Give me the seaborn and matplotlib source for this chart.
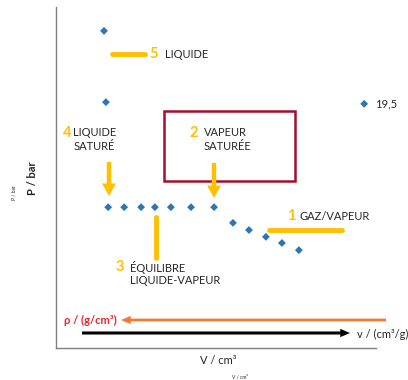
import matplotlib
matplotlib.use("Agg")
import matplotlib.pyplot as plt
import seaborn as sns
import pandas as pd

# volume / pressure readings (arbitrary units)
volume = [15.0, 15.6, 96.3, 16.3, 21.3, 26.6, 30.9, 35.9, 42.2, 49.4,
          55.3, 60.3, 65.6, 70.6, 75.9]
pressure = [93.0, 72.1, 71.6, 41.3, 41.3, 41.3, 41.3, 41.3, 41.3, 41.3,
            36.7, 34.6, 32.6, 30.8, 28.7]
point_label = "19,5"

W, H = 408, 380
BLUE = "#2E75B6"
YELLOW = "#FFC000"
DARKRED = "#A50F2D"
ORANGE = "#ED7D31"
GREY = "#262626"

sns.set_style("white")
plt.rcParams["font.family"] = ["Lato", "DejaVu Sans"]

fig = plt.figure(figsize=(W / 100, H / 100), dpi=100)
ax = fig.add_axes([56 / W, 1 - 348 / H, 320 / W, 341 / H])

df = pd.DataFrame({"V": volume, "P": pressure})
sns.scatterplot(data=df, x="V", y="P", marker="D", color=BLUE, s=16,
                edgecolor="none", ax=ax)
ax.set_xlim(0, 100)
ax.set_ylim(0, 100)
ax.set_xticks([])
ax.set_yticks([])
ax.set_xlabel("")
ax.set_ylabel("")
for side in ["top", "right"]:
    ax.spines[side].set_visible(False)
for side in ["left", "bottom"]:
    ax.spines[side].set_color("#7f7f7f")
    ax.spines[side].set_linewidth(1.0)

ax.annotate(point_label, (volume[2], pressure[2]), xytext=(8, 0),
            textcoords="offset points", va="center", fontsize=8, color=GREY)


def px(x, y):
    return x / W, 1 - y / H


def text(x, y, s, **kw):
    kw.setdefault("fontsize", 8)
    kw.setdefault("color", GREY)
    kw.setdefault("va", "center")
    fig.text(*px(x, y), s, **kw)


def line(x0, y0, x1, y1, **kw):
    a, b = px(x0, y0)
    c, d = px(x1, y1)
    fig.add_artist(plt.Line2D([a, c], [b, d], transform=fig.transFigure, **kw))


def arrow(x0, y0, x1, y1, color, tw, hw, hl):
    fig.add_artist(matplotlib.patches.FancyArrowPatch(
        px(x0, y0), px(x1, y1), transform=fig.transFigure,
        arrowstyle=f"simple,head_width={hw},head_length={hl},tail_width={tw}",
        mutation_scale=1, color=color, lw=0, shrinkA=0, shrinkB=0))


# 5 LIQUIDE
line(112, 54, 145, 54, color=YELLOW, lw=3.5)
text(149, 54, "5", color=YELLOW, fontsize=10.5, fontweight="bold")
text(165, 54, "LIQUIDE")

# 4 LIQUIDE SATURE
text(63, 133, "4", color=YELLOW, fontsize=10.5, fontweight="bold")
text(73, 133, "LIQUIDE")
text(115, 147, "SATURÉ", ha="right")
arrow(109, 162, 109, 196, YELLOW, 3.2, 10, 9)

# 2 VAPEUR SATUREE
fig.add_artist(matplotlib.patches.Rectangle(
    px(164, 181), 131 / W, 70 / H, transform=fig.transFigure,
    fill=False, edgecolor=DARKRED, lw=1.8))
text(190, 133, "2", color=YELLOW, fontsize=10.5, fontweight="bold")
text(204, 133, "VAPEUR")
text(204, 147, "SATURÉE")
arrow(214, 163, 214, 198, YELLOW, 3.2, 10, 9)

# 1 GAZ/VAPEUR
line(269, 230, 342, 230, color=YELLOW, lw=3.5)
text(287, 216, "1", color=YELLOW, fontsize=10.5, fontweight="bold")
text(299, 216, "GAZ/VAPEUR")

# 3 EQUILIBRE LIQUIDE-VAPEUR
line(156, 217, 156, 258, color=YELLOW, lw=3.5)
text(116, 267, "3", color=YELLOW, fontsize=10.5, fontweight="bold")
text(130, 267, "ÉQUILIBRE")
text(130, 281, "LIQUIDE-VAPEUR")

# density / specific volume arrows
arrow(386, 320, 121, 320, ORANGE, 2.0, 6, 7)
text(64, 320, "ρ / (g/cm³)", color="#E8262A", fontsize=8, fontweight="bold")
arrow(82, 333, 350, 333, "black", 2.2, 6, 7)
text(357, 334, "v / (cm³/g)")

# axis labels
text(33, 178, "P / bar", rotation=90, ha="center", fontsize=8, fontweight="bold")
text(14, 193, "P / bar", rotation=90, ha="center", fontsize=3.5)
text(218, 360, "V / cm³", ha="center", fontsize=8)
text(240, 377, "V / cm³", ha="center", fontsize=3.5)

fig.savefig("out.png", dpi=100)
